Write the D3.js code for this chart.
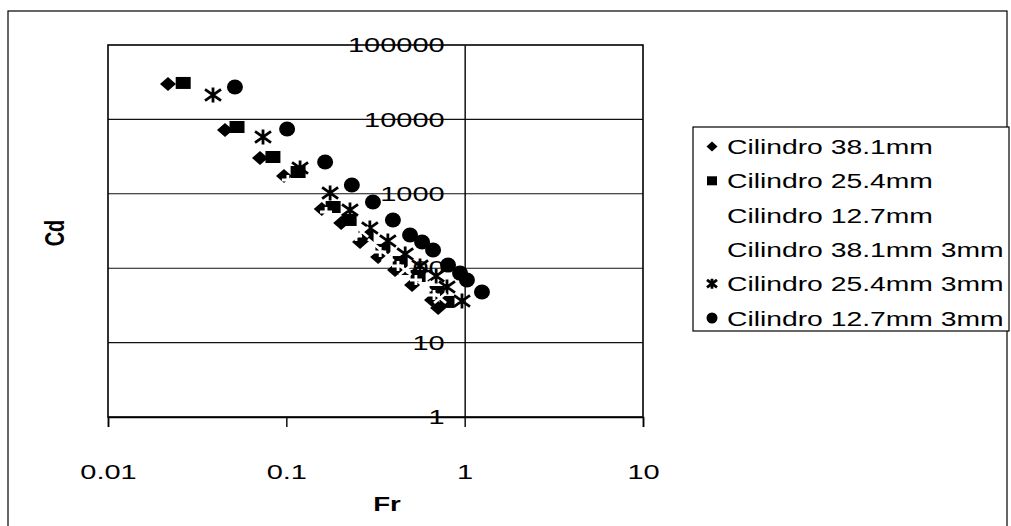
<!DOCTYPE html>
<html>
<head>
<meta charset="utf-8">
<script src="https://cdn.jsdelivr.net/npm/d3@7"></script>
<style>
  body { margin: 0; background: #fff; }
  text { font-family: "Liberation Sans", Arial, sans-serif; fill: #000; }
</style>
</head>
<body>
<div id="chart"></div>
<script>
// Values (Fr, Cd)
let cil381Fr = [0.0217, 0.0453, 0.0712, 0.097, 0.158, 0.203, 0.259, 0.327, 0.407, 0.507, 0.656, 0.71]
let cil381Cd = [30000, 7200, 3030, 1735, 625, 405, 225, 141, 94.6, 59.4, 37.4, 29.2]

let cil254Fr = [0.0264, 0.0529, 0.0841, 0.1164, 0.183, 0.225, 0.28, 0.348, 0.435, 0.548, 0.70, 0.796]
let cil254Cd = [30900, 7900, 3125, 1963, 665, 445, 271, 176, 121, 78.5, 47.9, 35.2]

let cil127Fr = [0.266, 0.31, 0.371, 0.464, 0.60, 0.728]
let cil127Cd = [307, 211, 146, 94.6, 57.7, 39.8]

let cil381_3Fr = [0.102, 0.167, 0.246, 0.336, 0.423, 0.533, 0.673]
let cil381_3Cd = [1532, 569, 271, 165, 107, 69.4, 43.6]

let cil254_3Fr = [0.0388, 0.074, 0.1194, 0.176, 0.2275, 0.294, 0.371, 0.464, 0.562, 0.692, 0.796, 0.966]
let cil254_3Cd = [21300, 5800, 2220, 1025, 605, 347, 232, 155, 107, 78.5, 55.8, 36.2]

let cil127_3Fr = [0.0515, 0.101, 0.165, 0.233, 0.306, 0.396, 0.494, 0.577, 0.665, 0.807, 0.942, 1.03, 1.25]
let cil127_3Cd = [27250, 7430, 2675, 1313, 776, 445, 279, 225, 176, 110, 86, 69.4, 47.9]

let seriesNames = ["Cilindro 38.1mm", "Cilindro 25.4mm", "Cilindro 12.7mm",
  "Cilindro 38.1mm 3mm", "Cilindro 25.4mm 3mm", "Cilindro 12.7mm 3mm"]
let xTicks = [0.01, 0.1, 1, 10]
let yTicks = [1, 10, 100, 1000, 10000, 100000]

let zip = (xs, ys) => xs.map((v, i) => ({fr: v, cd: ys[i]}))
let series = [
  {name: seriesNames[0], shape: "diamond", fill: "#000", pts: zip(cil381Fr, cil381Cd)},
  {name: seriesNames[1], shape: "square", fill: "#000", pts: zip(cil254Fr, cil254Cd)},
  {name: seriesNames[2], shape: "cross", fill: "#fff", pts: zip(cil127Fr, cil127Cd)},
  {name: seriesNames[3], shape: "plus", fill: "#fff", pts: zip(cil381_3Fr, cil381_3Cd)},
  {name: seriesNames[4], shape: "star", fill: "#000", pts: zip(cil254_3Fr, cil254_3Cd)},
  {name: seriesNames[5], shape: "circle", fill: "#000", pts: zip(cil127_3Fr, cil127_3Cd)}
]

// the scan is stretched sideways, so text gets the same stretch
let SX = 1.38

let W = 1011, H = 526
let plot = {left: 108, right: 643, top: 45, bottom: 417}

let svg = d3.select("#chart").append("svg")
  .attr("width", W).attr("height", H)

// outer chart border
svg.append("rect")
  .attr("x", 8).attr("y", 11).attr("width", 999).attr("height", 540)
  .attr("fill", "none").attr("stroke", "#000").attr("stroke-width", 1.2)

let x = d3.scaleLog().domain([0.01, 10]).range([plot.left, plot.right])
let y = d3.scaleLog().domain([1, 100000]).range([plot.bottom, plot.top])

// horizontal gridlines
svg.append("g").selectAll("line")
  .data(yTicks.slice(1, -1))
  .join("line")
  .attr("x1", plot.left).attr("x2", plot.right)
  .attr("y1", d => y(d)).attr("y2", d => y(d))
  .attr("stroke", "#111").attr("stroke-width", 1.1)

// plot border
svg.append("rect")
  .attr("x", plot.left).attr("y", plot.top)
  .attr("width", plot.right - plot.left).attr("height", plot.bottom - plot.top)
  .attr("fill", "none").attr("stroke", "#000").attr("stroke-width", 1.6)

// x axis
let xAxis = d3.axisBottom(x)
  .tickValues(xTicks)
  .tickFormat(d => String(d))
  .tickSize(10)
  .tickPadding(52)
let gx = svg.append("g")
  .attr("transform", "translate(0," + plot.bottom + ")")
  .call(xAxis)
gx.select(".domain").attr("stroke-width", 1.6)
gx.selectAll(".tick line").attr("stroke-width", 1.4)
gx.selectAll(".tick text")
  .attr("font-size", 21)
  .attr("dy", "0")
  .attr("transform", "scale(" + SX + ",1)")

// y axis crosses at Fr = 1
let yAxis = d3.axisLeft(y)
  .tickValues(yTicks)
  .tickFormat(d => String(d))
  .tickSize(0)
  .tickPadding(20)
let gy = svg.append("g")
  .attr("transform", "translate(" + x(1) + ",0)")
  .call(yAxis)
gy.select(".domain").attr("stroke-width", 1.4)
gy.selectAll(".tick text")
  .attr("font-size", 21)
  .attr("transform", "scale(" + SX + ",1)")
  .attr("x", -20 / SX)

// axis titles
svg.append("text")
  .attr("transform", "translate(387,511) scale(" + SX + ",1)")
  .attr("text-anchor", "middle")
  .attr("font-size", 20).attr("font-weight", "bold")
  .text("Fr")

svg.append("text")
  .attr("transform", "translate(64,233) scale(" + SX + ",1) rotate(-90)")
  .attr("text-anchor", "middle")
  .attr("font-size", 20).attr("font-weight", "bold")
  .text("Cd")

// marker paths, sized in px (w = half width, h = half height)
function markerPath(shape, w, h) {
  if (shape === "diamond") return `M0,${-h}L${w},0L0,${h}L${-w},0Z`
  if (shape === "square") return `M${-w},${-h}H${w}V${h}H${-w}Z`
  if (shape === "circle") return `M${-w},0A${w},${h} 0 1,0 ${w},0A${w},${h} 0 1,0 ${-w},0Z`
  if (shape === "cross") return `M${-w},${-h}L${w},${h}M${-w},${h}L${w},${-h}`
  if (shape === "plus") return `M${-w},0H${w}M0,${-h}V${h}`
  // star: an x with a vertical bar
  return `M${-w},${-h * 0.75}L${w},${h * 0.75}M${-w},${h * 0.75}L${w},${-h * 0.75}M0,${-h}V${h}`
}
let plotSize = {diamond: [8, 7], square: [7.5, 6], circle: [8, 7.5], cross: [6, 5], plus: [6, 5], star: [8, 7.5]}
let legSize = {diamond: [5.5, 5], square: [5, 4.5], circle: [5.5, 5.5], cross: [4, 4], plus: [4, 4], star: [5, 5]}

function styleMarker(sel, s) {
  let stroked = s.shape === "cross" || s.shape === "plus" || s.shape === "star"
  sel.attr("fill", stroked ? "none" : s.fill)
    .attr("stroke", stroked ? s.fill : "none")
    .attr("stroke-width", stroked ? 2.8 : 0)
}

let pointsG = svg.append("g")
// draw white series last so they show over the black marks
let drawOrder = [0, 1, 4, 5, 2, 3]
drawOrder.forEach(i => {
  let s = series[i]
  let sz = plotSize[s.shape]
  pointsG.append("g").selectAll("path")
    .data(s.pts)
    .join("path")
    .attr("d", markerPath(s.shape, sz[0], sz[1]))
    .attr("transform", d => "translate(" + x(d.fr) + "," + y(d.cd) + ")")
    .call(styleMarker, s)
})

// legend
let leg = svg.append("g")
leg.append("rect")
  .attr("x", 693).attr("y", 127).attr("width", 316).attr("height", 204)
  .attr("fill", "#fff").attr("stroke", "#000").attr("stroke-width", 1.2)

let rowY = d3.scalePoint().domain(seriesNames).range([146.5, 318])
series.forEach(s => {
  let cy = rowY(s.name)
  let sz = legSize[s.shape]
  leg.append("path")
    .attr("d", markerPath(s.shape, sz[0], sz[1]))
    .attr("transform", "translate(712," + cy + ")")
    .call(styleMarker, s)
  leg.append("text")
    .attr("transform", "translate(727," + (cy + 7.5) + ") scale(" + SX + ",1)")
    .attr("font-size", 20.5)
    .text(s.name)
})
</script>
</body>
</html>
